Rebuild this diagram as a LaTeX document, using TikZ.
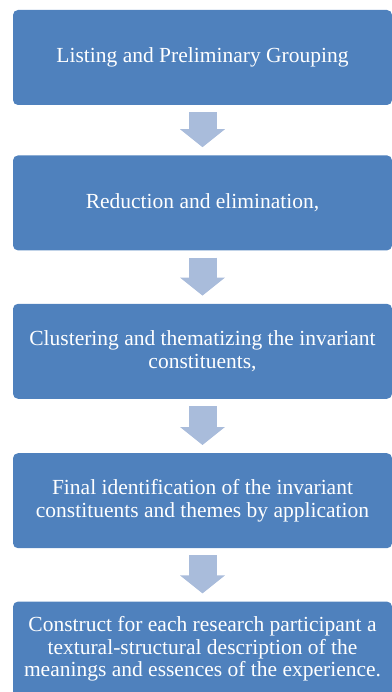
\documentclass[tikz,border=0pt]{standalone}
\usepackage{fontspec}
\setmainfont{Liberation Serif}
\usepackage{xcolor}
\usetikzlibrary{arrows.meta,positioning}

\definecolor{boxblue}{HTML}{4F81BD}
\definecolor{arrowblue}{HTML}{A9BCDB}

\begin{document}
\begin{tikzpicture}[x=1pt,y=1pt,node distance=53pt,
  box/.style={fill=boxblue,rounded corners=5pt,minimum width=379pt,
              minimum height=95pt,inner sep=0pt,align=center,text=white,
              font=\fontsize{21.5}{22.5}\selectfont},
  bigarrow/.style={arrowblue,line width=28pt,
              -{Triangle[length=18pt,width=44pt]},
              shorten <=7pt,shorten >=8pt}]
  \useasboundingbox (0,0) rectangle (391,-692);
  \node[box] (listing) at (202.5,-57.5) {Listing and Preliminary Grouping};
  \node[box,below=50pt of listing] (reduce) {Reduction and elimination,};
  \node[box,below=53pt of reduce] (cluster)
    {Clustering and thematizing the invariant\\constituents,};
  \node[box,below=54pt of cluster] (ident)
    {Final identification of the invariant\\constituents and themes by application};
  \node[box,below=53pt of ident] (construct)
    {Construct for each research participant a\\textural-structural description of the\\meanings and essences of the experience.};
  \draw[bigarrow] (listing) -- (reduce);
  \draw[bigarrow] (reduce) -- (cluster);
  \draw[bigarrow] (cluster) -- (ident);
  \draw[bigarrow] (ident) -- (construct);
\end{tikzpicture}
\end{document}
